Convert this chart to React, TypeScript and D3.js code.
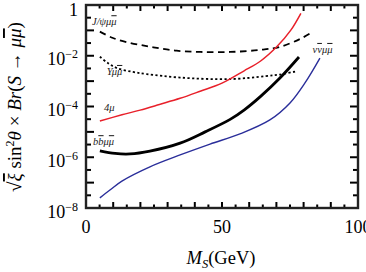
import React, { useRef, useEffect } from "react";
import * as d3 from "d3";

const width = 366;
const height = 272;

// [M_S in GeV, branching value]
const jpsiMass = [5.1, 9.9, 16.2, 22.3, 27.2, 33.3, 42, 53, 64, 71.3, 78.7, 82.7];
const jpsiValue = [8.9e-2, 5.0e-2, 3.2e-2, 2.4e-2, 1.95e-2, 1.58e-2, 1.41e-2, 1.41e-2, 1.7e-2, 2.24e-2, 4.6e-2, 7.9e-2];

const upsMass = [5.1, 8.1, 11.3, 17.3, 22.3, 34.6, 53, 66, 71.3, 77];
const upsValue = [9.1e-3, 5.1e-3, 3.3e-3, 2.3e-3, 1.9e-3, 1.38e-3, 1.2e-3, 1.58e-3, 1.82e-3, 2.4e-3];

const fourMuMass = [5.1, 13.2, 19.9, 27, 34.6, 42, 50, 58, 64.2, 70.2, 75.3, 79];
const fourMuValue = [2.7e-5, 4.7e-5, 7.2e-5, 1.2e-4, 2.1e-4, 4.0e-4, 8.3e-4, 2.5e-3, 6.2e-3, 2.3e-2, 1.02e-1, 4.7e-1];

const bbMass = [5.1, 10.7, 16.2, 23.5, 34.6, 43.8, 53, 58.1, 64.2, 71.3, 78.3];
const bbValue = [1.78e-6, 1.41e-6, 1.35e-6, 1.74e-6, 3.6e-6, 1.0e-5, 3.1e-5, 7.2e-5, 2.5e-4, 1.32e-3, 8.9e-3];

const nuMass = [5.1, 8.8, 13.2, 23.5, 34.6, 45.6, 56.6, 67.6, 75, 80.5, 86];
const nuValue = [2.5e-8, 5.1e-8, 1.15e-7, 4.2e-7, 1.23e-6, 3.3e-6, 8.3e-6, 2.95e-5, 1.38e-4, 8.5e-4, 8.1e-3];

const xTickLabels = [0, 50, 100];
const yTickExponents = [0, -2, -4, -6, -8];

const series = [
  { mass: jpsiMass, value: jpsiValue, color: "#000", width: 1.8, dash: "6.5,4.5" },
  { mass: upsMass, value: upsValue, color: "#000", width: 1.8, dash: "2.2,2.4" },
  { mass: fourMuMass, value: fourMuValue, color: "#e8202a", width: 1.5, dash: null },
  { mass: bbMass, value: bbValue, color: "#000", width: 2.8, dash: null },
  { mass: nuMass, value: nuValue, color: "#2a2e9a", width: 1.4, dash: null },
];

// curve labels: segments [text, barred], placed at (mass, value) baseline start
const curveLabels = [
  { parts: [["J/ψμ", false], ["μ", true]], m: 2.2, v: 0.16 },
  { parts: [["Υμ", false], ["μ", true]], m: 7.6, v: 1.75e-3 },
  { parts: [["4μ", false]], m: 6.6, v: 6.6e-5 },
  { parts: [["b", false], ["b", true], ["μ", false], ["μ", true]], m: 2.6, v: 3.0e-6 },
  { parts: [["ν", false], ["ν", true], ["μ", false], ["μ", true]], m: 83.3, v: 1.29e-2 },
];

function Chart() {
  const svgRef = useRef<SVGSVGElement>(null);

  useEffect(() => {
    const svg = d3.select(svgRef.current);
    svg.selectAll("*").remove();

    const left = 86, right = 358, top = 5, bottom = 208;
    const x = d3.scaleLinear().domain([0, 100]).range([left, right]);
    const y = d3.scaleLog().domain([1e-8, 1]).range([bottom, top]);
    const font = "'Liberation Serif', 'DejaVu Serif', serif";

    const line = d3
      .line<[number, number]>()
      .x((d) => x(d[0]))
      .y((d) => y(d[1]))
      .curve(d3.curveCatmullRom.alpha(0.5));

    series.forEach((s) => {
      const pts = s.mass.map((m, i) => [m, s.value[i]] as [number, number]);
      const p = svg
        .append("path")
        .datum(pts)
        .attr("fill", "none")
        .attr("stroke", s.color)
        .attr("stroke-width", s.width)
        .attr("d", line);
      if (s.dash) p.attr("stroke-dasharray", s.dash);
    });

    // curve labels
    curveLabels.forEach((l) => {
      const t = svg
        .append("text")
        .attr("x", x(l.m))
        .attr("y", y(l.v))
        .attr("font-family", font)
        .attr("font-style", "italic")
        .attr("font-size", 10.5)
        .attr("fill", "#222");
      l.parts.forEach(([s, bar]) => {
        const sp = t.append("tspan").text(s as string);
        if (bar) sp.attr("text-decoration", "overline");
      });
    });

    // ticks: x every 5 GeV, long ones at 10s
    d3.range(0, 101, 5).forEach((t) => {
      const len = t % 10 === 0 ? 6 : 3.5;
      svg.append("line").attr("x1", x(t)).attr("x2", x(t)).attr("y1", bottom).attr("y2", bottom - len)
        .attr("stroke", "#000").attr("stroke-width", 2);
      svg.append("line").attr("x1", x(t)).attr("x2", x(t)).attr("y1", top).attr("y2", top + len)
        .attr("stroke", "#000").attr("stroke-width", 2);
    });

    // y ticks: each half decade, long at decades
    d3.range(0, 17).forEach((k) => {
      const t = Math.pow(10, -k / 2);
      const len = k % 2 === 0 ? 8 : 5;
      svg.append("line").attr("x1", left).attr("x2", left + len).attr("y1", y(t)).attr("y2", y(t))
        .attr("stroke", "#000").attr("stroke-width", 2);
      svg.append("line").attr("x1", right).attr("x2", right - len).attr("y1", y(t)).attr("y2", y(t))
        .attr("stroke", "#000").attr("stroke-width", 2);
    });

    // frame
    svg
      .append("rect")
      .attr("x", left)
      .attr("y", top)
      .attr("width", right - left)
      .attr("height", bottom - top)
      .attr("fill", "none")
      .attr("stroke", "#222")
      .attr("stroke-width", 2.4);

    // x tick labels
    xTickLabels.forEach((t) => {
      svg
        .append("text")
        .attr("x", x(t))
        .attr("y", 233)
        .attr("text-anchor", "middle")
        .attr("font-family", font)
        .attr("font-size", 18)
        .text(t);
    });

    // y tick labels
    yTickExponents.forEach((e) => {
      const ty = y(Math.pow(10, e));
      if (e === 0) {
        svg.append("text").attr("x", 78).attr("y", 16).attr("text-anchor", "end")
          .attr("font-family", font).attr("font-size", 18).text("1");
      } else {
        const t = svg.append("text").attr("x", 78).attr("y", ty + 9.5).attr("text-anchor", "end")
          .attr("font-family", font).attr("font-size", 18);
        t.append("tspan").text("10");
        t.append("tspan").attr("dy", -7).attr("font-size", 12).text("−" + -e);
      }
    });

    // x axis label
    const xl = svg.append("text").attr("x", 221).attr("y", 264).attr("text-anchor", "middle")
      .attr("font-family", font).attr("font-size", 18.5);
    xl.append("tspan").attr("font-style", "italic").text("M");
    xl.append("tspan").attr("font-style", "italic").attr("font-size", 12.5).attr("dy", 4).text("S");
    xl.append("tspan").attr("dy", -4).text("(GeV)");

    // y axis label
    const yl = svg.append("text")
      .attr("transform", `translate(21,107) rotate(-90)`)
      .attr("text-anchor", "middle")
      .attr("font-family", font)
      .attr("font-size", 19);
    yl.append("tspan").text("√");
    yl.append("tspan").attr("font-style", "italic").attr("text-decoration", "overline").text("ξ");
    yl.append("tspan").text(" sin");
    yl.append("tspan").attr("font-size", 12).attr("dy", -7).text("2");
    yl.append("tspan").attr("dy", 7).attr("font-style", "italic").text("θ");
    yl.append("tspan").text(" × ");
    yl.append("tspan").attr("font-style", "italic").text("Br");
    yl.append("tspan").text("(");
    yl.append("tspan").attr("font-style", "italic").text("S");
    yl.append("tspan").text(" → ");
    yl.append("tspan").attr("font-style", "italic").text("μ");
    yl.append("tspan").attr("font-style", "italic").attr("text-decoration", "overline").text("μ");
    yl.append("tspan").text(")");
  }, []);

  return (
    <svg
      ref={svgRef}
      width={width}
      height={height}
      style={{ position: "absolute", left: 0, top: 0, background: "#fff" }}
    ></svg>
  );
}

export default function App() {
  return <Chart />;
}
